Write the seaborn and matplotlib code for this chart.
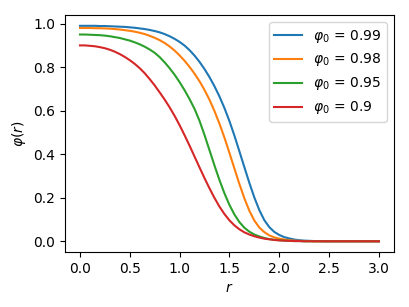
import numpy as np
import pandas as pd
import matplotlib
matplotlib.use("Agg")
import matplotlib.pyplot as plt
import seaborn as sns

# radial grid (step 0.05) and profiles
r = [round(0.05 * i, 2) for i in range(61)]

phi_099 = [0.990, 0.990, 0.990, 0.990, 0.989, 0.989, 0.988, 0.987, 0.986, 0.985,
           0.983, 0.981, 0.978, 0.975, 0.971, 0.966, 0.960, 0.952, 0.942, 0.930,
           0.916, 0.899, 0.878, 0.853, 0.824, 0.791, 0.754, 0.712, 0.665, 0.612,
           0.552, 0.485, 0.413, 0.340, 0.268, 0.201, 0.143, 0.097, 0.065, 0.043,
           0.029, 0.019, 0.013, 0.008, 0.005, 0.003, 0.002, 0.001, 0.001, 0.0,
           0.0, 0.0, 0.0, 0.0, 0.0, 0.0, 0.0, 0.0, 0.0, 0.0, 0.0]
phi_098 = [0.980, 0.980, 0.980, 0.979, 0.979, 0.978, 0.977, 0.975, 0.973, 0.970,
           0.967, 0.963, 0.958, 0.952, 0.944, 0.935, 0.924, 0.911, 0.895, 0.876,
           0.854, 0.829, 0.801, 0.770, 0.735, 0.695, 0.650, 0.598, 0.540, 0.476,
           0.406, 0.334, 0.263, 0.197, 0.140, 0.095, 0.063, 0.042, 0.027, 0.018,
           0.012, 0.008, 0.005, 0.003, 0.002, 0.001, 0.001, 0.0, 0.0, 0.0,
           0.0, 0.0, 0.0, 0.0, 0.0, 0.0, 0.0, 0.0, 0.0, 0.0, 0.0]
phi_095 = [0.950, 0.950, 0.949, 0.948, 0.947, 0.945, 0.942, 0.938, 0.934, 0.928,
           0.922, 0.914, 0.905, 0.894, 0.881, 0.866, 0.846, 0.822, 0.795, 0.765,
           0.731, 0.694, 0.653, 0.608, 0.553, 0.488, 0.418, 0.348, 0.281, 0.220,
           0.167, 0.123, 0.088, 0.062, 0.044, 0.031, 0.022, 0.015, 0.010, 0.007,
           0.005, 0.003, 0.002, 0.001, 0.001, 0.0, 0.0, 0.0, 0.0, 0.0,
           0.0, 0.0, 0.0, 0.0, 0.0, 0.0, 0.0, 0.0, 0.0, 0.0, 0.0]
phi_090 = [0.900, 0.900, 0.898, 0.896, 0.892, 0.887, 0.880, 0.871, 0.860, 0.847,
           0.832, 0.815, 0.795, 0.772, 0.745, 0.716, 0.684, 0.651, 0.615, 0.576,
           0.533, 0.487, 0.439, 0.389, 0.339, 0.290, 0.243, 0.199, 0.159, 0.125,
           0.096, 0.073, 0.055, 0.041, 0.031, 0.023, 0.017, 0.012, 0.009, 0.006,
           0.004, 0.003, 0.002, 0.001, 0.001, 0.0, 0.0, 0.0, 0.0, 0.0,
           0.0, 0.0, 0.0, 0.0, 0.0, 0.0, 0.0, 0.0, 0.0, 0.0, 0.0]

labels = [r"$\varphi_0$ = 0.99", r"$\varphi_0$ = 0.98",
          r"$\varphi_0$ = 0.95", r"$\varphi_0$ = 0.9"]
profiles = [phi_099, phi_098, phi_095, phi_090]

# long form table for seaborn
rows = []
for lab, prof in zip(labels, profiles):
    for ri, pi in zip(r, prof):
        rows.append({"r": ri, "phi": pi, "case": lab})
df = pd.DataFrame(rows)

fig, ax = plt.subplots(figsize=(4.09, 3.07), dpi=100)
sns.lineplot(data=df, x="r", y="phi", hue="case", hue_order=labels,
             palette="tab10", ax=ax, linewidth=1.5)

ax.set_xlabel(r"$r$")
ax.set_ylabel(r"$\varphi(r)$")
ax.legend(loc="upper right")
fig.subplots_adjust(left=0.159, right=0.963, top=0.951, bottom=0.179)
plt.savefig("out.png")
